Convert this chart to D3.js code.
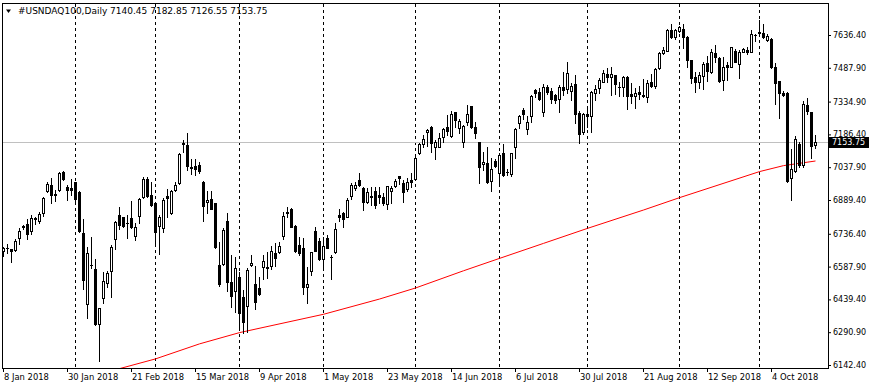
<!DOCTYPE html>
<html><head><meta charset="utf-8">
<script src="https://cdn.jsdelivr.net/npm/d3@7"></script>
<style>
html,body{margin:0;padding:0;background:#fff;}
svg{display:block;}
text{font-family:"DejaVu Sans",sans-serif;font-size:8px;fill:#000;}
</style></head><body>
<svg id="c" width="870" height="390"></svg>
<script>
const symbol = "#USNDAQ100,Daily";
const lastOHLC = ["7140.45", "7182.85", "7126.55", "7153.75"];
const open = [6658,6672,6666,6663,6716,6766,6781,6748,6802,6796,
6829,6931,6957,6918,6933,7016,6948,6944,6970,6926,
6740,6417,6593,6577,6327,6444,6512,6567,6714,6822,
6812,6785,6807,6725,6816,6903,6986,6912,6876,6770,
6761,6908,6829,6933,6966,7149,7138,7037,7043,7048,
6970,6879,6894,6874,6595,6600,6794,6520,6479,6542,
6449,6411,6595,6509,6490,6585,6580,6592,6651,6655,
6728,6831,6849,6772,6686,6671,6497,6569,6749,6705,
6621,6716,6633,6653,6822,6829,6814,6909,6945,6980,
6942,6879,6904,6930,6912,6904,6870,6931,6954,6998,
6965,6939,6980,6983,7101,7142,7196,7218,7128,7131,
7173,7218,7180,7286,7214,7153,7241,7315,7218,7151,
7051,7056,6975,7067,7010,7101,7018,7007,7131,7237,
7297,7209,7270,7387,7377,7286,7400,7383,7365,7347,
7400,7391,7384,7415,7282,7196,7277,7271,7372,7395,
7425,7460,7448,7455,7400,7402,7445,7369,7362,7377,
7362,7357,7425,7406,7486,7556,7565,7659,7629,7656,
7663,7629,7523,7448,7425,7452,7508,7470,7554,7531,
7433,7501,7493,7565,7504,7561,7568,7561,7636,7644,
7644,7614,7618,7493,7428,7375,7372,6990,7021,7143,
7048,7319,7286,7140.45];
const high = [6678,6690,6669,6712,6761,6778,6802,6820,6814,6836,
6904,6970,6989,6936,7016,7021,6957,6983,6972,6929,
6803,6677,6721,6622,6399,6565,6569,6686,6796,6859,
6814,6822,6885,6784,6898,6995,6992,6970,6878,6820,
6900,6938,6935,6971,7101,7161,7191,7074,7074,7061,
6975,6930,6931,6877,6701,6761,6829,6640,6633,6565,
6482,6580,6640,6592,6542,6640,6655,6682,6696,6701,
6834,6856,6852,6774,6721,6716,6587,6655,6766,6716,
6723,6731,6640,6784,6847,6834,6897,6968,6972,7010,
6950,6945,6950,6948,6950,6920,6955,6953,6983,7000,
6980,6988,7013,7085,7146,7184,7209,7224,7161,7191,
7214,7274,7292,7289,7255,7229,7319,7317,7244,7153,
7105,7128,7081,7075,7104,7142,7030,7104,7217,7274,
7307,7270,7365,7392,7395,7415,7410,7395,7369,7410,
7470,7513,7418,7455,7294,7282,7305,7384,7410,7440,
7478,7486,7493,7457,7425,7451,7451,7418,7395,7406,
7436,7433,7458,7488,7558,7583,7663,7685,7663,7678,
7685,7633,7525,7467,7470,7513,7543,7573,7591,7538,
7538,7516,7583,7572,7568,7576,7583,7659,7640,7704,
7685,7640,7621,7511,7430,7383,7377,7120,7180,7151,
7338,7350,7289,7182.85];
const low = [6636,6651,6610,6658,6689,6758,6714,6734,6781,6787,
6818,6927,6874,6886,6931,6981,6888,6911,6874,6746,
6488,6357,6580,6325,6162,6425,6497,6452,6666,6757,
6769,6719,6764,6708,6787,6900,6904,6864,6689,6644,
6743,6814,6827,6929,6962,7108,7025,7007,7003,7010,
6796,6829,6847,6671,6501,6595,6479,6404,6384,6309,
6286,6290,6592,6395,6459,6530,6538,6576,6592,6651,
6713,6814,6766,6655,6640,6464,6422,6550,6658,6618,
6577,6671,6530,6651,6794,6766,6812,6893,6935,6953,
6844,6874,6867,6853,6874,6867,6847,6874,6950,6962,
6882,6931,6950,6980,7096,7131,7134,7108,7074,7128,
7153,7184,7176,7218,7191,7131,7229,7214,7171,6968,
7025,6968,6931,7037,6957,6997,7003,6998,7081,7217,
7255,7188,7244,7357,7342,7270,7369,7327,7330,7289,
7365,7375,7342,7237,7149,7187,7221,7199,7342,7372,
7422,7425,7365,7369,7360,7360,7300,7330,7305,7347,
7357,7334,7402,7398,7482,7549,7564,7624,7618,7651,
7576,7493,7418,7380,7398,7392,7428,7463,7516,7422,
7387,7433,7490,7513,7443,7558,7549,7558,7609,7636,
7621,7609,7488,7323,7262,7362,6972,6889,7017,7040,
7040,7277,7078,7126.55];
const close = [6671,6674,6660,6704,6749,6772,6735,6808,6807,6825,
6898,6963,6913,6911,7012,6986,6933,6936,6895,6749,
6529,6648,6597,6327,6399,6521,6559,6677,6791,6778,
6773,6786,6766,6767,6894,6984,6909,6865,6746,6811,
6888,6900,6929,6957,7096,7142,7045,7036,7030,7022,
6864,6889,6850,6675,6509,6755,6520,6456,6580,6379,
6336,6572,6606,6429,6464,6613,6587,6658,6625,6681,
6816,6835,6769,6660,6648,6497,6509,6653,6660,6621,
6681,6673,6632,6757,6811,6803,6889,6956,6956,6957,
6882,6924,6906,6867,6902,6874,6953,6945,6975,6988,
6927,6972,6970,7081,7142,7164,7206,7146,7153,7169,
7209,7203,7277,7252,7248,7224,7277,7218,7194,7037,
7063,6972,7028,7043,7093,7001,7017,7101,7211,7271,
7277,7241,7362,7372,7347,7400,7377,7345,7342,7400,
7387,7463,7406,7279,7188,7279,7270,7380,7392,7433,
7466,7448,7460,7413,7401,7445,7362,7360,7372,7368,
7364,7418,7407,7482,7554,7568,7659,7629,7659,7671,
7629,7523,7443,7425,7455,7505,7475,7558,7535,7430,
7493,7493,7581,7516,7561,7572,7561,7640,7635,7651,
7629,7633,7493,7418,7372,7365,6977,7028,7164,7048,
7324,7292,7135,7153.75];
const priceTicks = ["7636.40","7487.90","7334.90","7186.40","7037.90","6889.40","6736.40","6587.90","6439.40","6290.90","6142.40"];
const dateLabels = ["8 Jan 2018","30 Jan 2018","21 Feb 2018","15 Mar 2018","9 Apr 2018","1 May 2018","23 May 2018","14 Jun 2018","6 Jul 2018","30 Jul 2018","21 Aug 2018","12 Sep 2018","4 Oct 2018"];
const dateLabelBars = [0,16,32,48,64,80,96,112,128,144,160,176,192];
const monthStartBars = [18,38,59,80,103,124,146,169,189];
const maBars   = [28,38,49,59,80,94,103,115,124,135,146,160,169,189,195,203];
const maValues = [6121,6170,6238,6289,6372,6441,6491,6569,6625,6693,6761,6844,6900,7018,7045,7066];

const svg = d3.select('#c');
const L = 2, R = 828, T = 3, B = 368;
const n = close.length;
const x = d3.scaleLinear().domain([0, n - 1]).range([3, 3 + 4 * (n - 1)]);
const tv = priceTicks.map(Number);
const y = d3.scaleLinear().domain(d3.extent(tv)).range([365, 35]);

svg.append('rect').attr('width', 870).attr('height', 390).attr('fill', '#fff');

svg.append('defs').append('clipPath').attr('id', 'pc')
  .append('rect').attr('x', L + 1).attr('y', T + 1).attr('width', R - L - 1).attr('height', B - T - 1);

const g = svg.append('g').attr('clip-path', 'url(#pc)');

// month grid
g.selectAll('line.grid').data(monthStartBars).join('line')
  .attr('x1', d => Math.round(x(d)) + 0.5).attr('x2', d => Math.round(x(d)) + 0.5)
  .attr('y1', T + 1).attr('y2', B)
  .attr('stroke', '#000').attr('stroke-dasharray', '3,3').attr('shape-rendering', 'crispEdges');

// current price line
const lastY = Math.round(y(+lastOHLC[3])) + 0.5;
g.append('line').attr('x1', L).attr('x2', R).attr('y1', lastY).attr('y2', lastY)
  .attr('stroke', '#c0c0c0').attr('shape-rendering', 'crispEdges');

// moving average
g.append('path').datum(maBars.map((b, i) => [b, maValues[i]]))
  .attr('d', d3.line().x(d => x(d[0]) + 0.5).y(d => y(d[1])))
  .attr('fill', 'none').attr('stroke', '#ff0000').attr('stroke-width', 1);

// candles
const idx = d3.range(n);
const cg = g.append('g').attr('shape-rendering', 'crispEdges');
idx.forEach(i => {
  const c = Math.round(x(i));
  const yo = Math.round(y(open[i])), yc = Math.round(y(close[i]));
  const yh = Math.round(y(high[i])), yl = Math.round(y(low[i]));
  cg.append('line').attr('x1', c + 0.5).attr('x2', c + 0.5).attr('y1', yh).attr('y2', yl + 1).attr('stroke', '#000');
  const top = Math.min(yo, yc), bot = Math.max(yo, yc);
  if (bot - top < 1) {
    cg.append('rect').attr('x', c - 1).attr('y', top).attr('width', 3).attr('height', 1).attr('fill', '#000');
  } else if (close[i] >= open[i]) {
    cg.append('rect').attr('x', c - 0.5).attr('y', top + 0.5).attr('width', 2).attr('height', bot - top)
      .attr('fill', '#fff').attr('stroke', '#000');
  } else {
    cg.append('rect').attr('x', c - 1).attr('y', top).attr('width', 3).attr('height', bot - top + 1).attr('fill', '#000');
  }
});

// frame
svg.append('rect').attr('x', L + 0.5).attr('y', T + 0.5).attr('width', R - L).attr('height', B - T)
  .attr('fill', 'none').attr('stroke', '#000').attr('shape-rendering', 'crispEdges');

// price axis
const ya = svg.append('g').attr('transform', `translate(${R},0)`)
  .call(d3.axisRight(y).tickValues(tv).tickFormat((d, i) => priceTicks[i]).tickSize(3).tickPadding(2));
ya.select('.domain').remove();
ya.selectAll('line').attr('stroke', '#000');
ya.selectAll('text').attr('fill', '#000').style('font-family', '"DejaVu Sans",sans-serif').style('font-size', '8px');

// date axis
const xa = svg.append('g').attr('transform', `translate(0,${B})`)
  .call(d3.axisBottom(x).tickValues(dateLabelBars).tickFormat((d, i) => dateLabels[i]).tickSize(4));
xa.select('.domain').remove();
xa.selectAll('line').attr('stroke', '#000');
xa.selectAll('text').attr('fill', '#000').attr('x', 0.5).attr('y', 6.5).attr('dy', '0.71em')
  .style('text-anchor', 'start').style('font-family', '"DejaVu Sans",sans-serif').style('font-size', '8.4px');

// current price label
const bx = svg.append('g');
bx.append('rect').attr('x', R + 1).attr('y', lastY - 5.5).attr('width', 40).attr('height', 11).attr('fill', '#000');
bx.append('text').attr('x', R + 4).attr('y', lastY).attr('dy', '0.32em').attr('fill', '#fff').style('fill', '#fff').text(lastOHLC[3]);

// title
svg.append('path').attr('d', 'M6,9.5L11,9.5L8.5,13Z').attr('fill', '#000');
svg.append('text').attr('x', 18).attr('y', 14).style('font-size', '9px').text(symbol + '  ' + lastOHLC.join(' '));
</script>
</body></html>
